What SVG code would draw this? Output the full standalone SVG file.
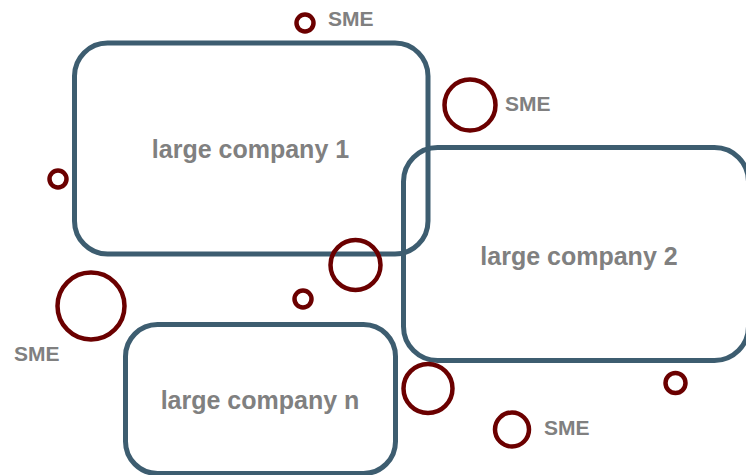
<svg xmlns="http://www.w3.org/2000/svg" width="746" height="475" viewBox="0 0 746 475">
<style>
.box{fill:none;stroke:#3d5d70;stroke-width:5}
.sme{fill:none;stroke:#6b0000;stroke-width:4.5}
.lbl{font-family:"Liberation Sans",Arial,sans-serif;font-weight:bold;font-size:25px;fill:#808080;text-anchor:middle}
.st{font-family:"Liberation Sans",Arial,sans-serif;font-weight:bold;font-size:21px;fill:#808080}
</style>
<rect width="746" height="475" fill="#ffffff"/>
<g id="company1">
<rect class="box" x="74.5" y="43" width="353.5" height="211" rx="33"/>
<text class="lbl" x="250.5" y="158">large company 1</text>
</g>
<g id="company2">
<rect class="box" x="403.5" y="147.5" width="345" height="213" rx="34"/>
<text class="lbl" x="579" y="265">large company 2</text>
</g>
<g id="companyn">
<rect class="box" x="125.5" y="324.5" width="270" height="149" rx="32"/>
<text class="lbl" x="260" y="409">large company n</text>
</g>
<g id="sme-circles">
<circle class="sme" cx="305" cy="23" r="8.5"/>
<circle class="sme" cx="470" cy="105" r="25.5"/>
<circle class="sme" cx="58" cy="179" r="8.5"/>
<circle class="sme" cx="355.5" cy="265" r="25"/>
<circle class="sme" cx="303" cy="299" r="8.5"/>
<circle class="sme" cx="91" cy="306" r="33.5"/>
<circle class="sme" cx="428" cy="388.5" r="24.5"/>
<circle class="sme" cx="675.5" cy="383" r="10"/>
<circle class="sme" cx="512" cy="429.5" r="17"/>
</g>
<g id="sme-labels">
<text class="st" x="328" y="26">SME</text>
<text class="st" x="505" y="111">SME</text>
<text class="st" x="14" y="361">SME</text>
<text class="st" x="544" y="435">SME</text>
</g>
<g id="connectors"></g>
</svg>
